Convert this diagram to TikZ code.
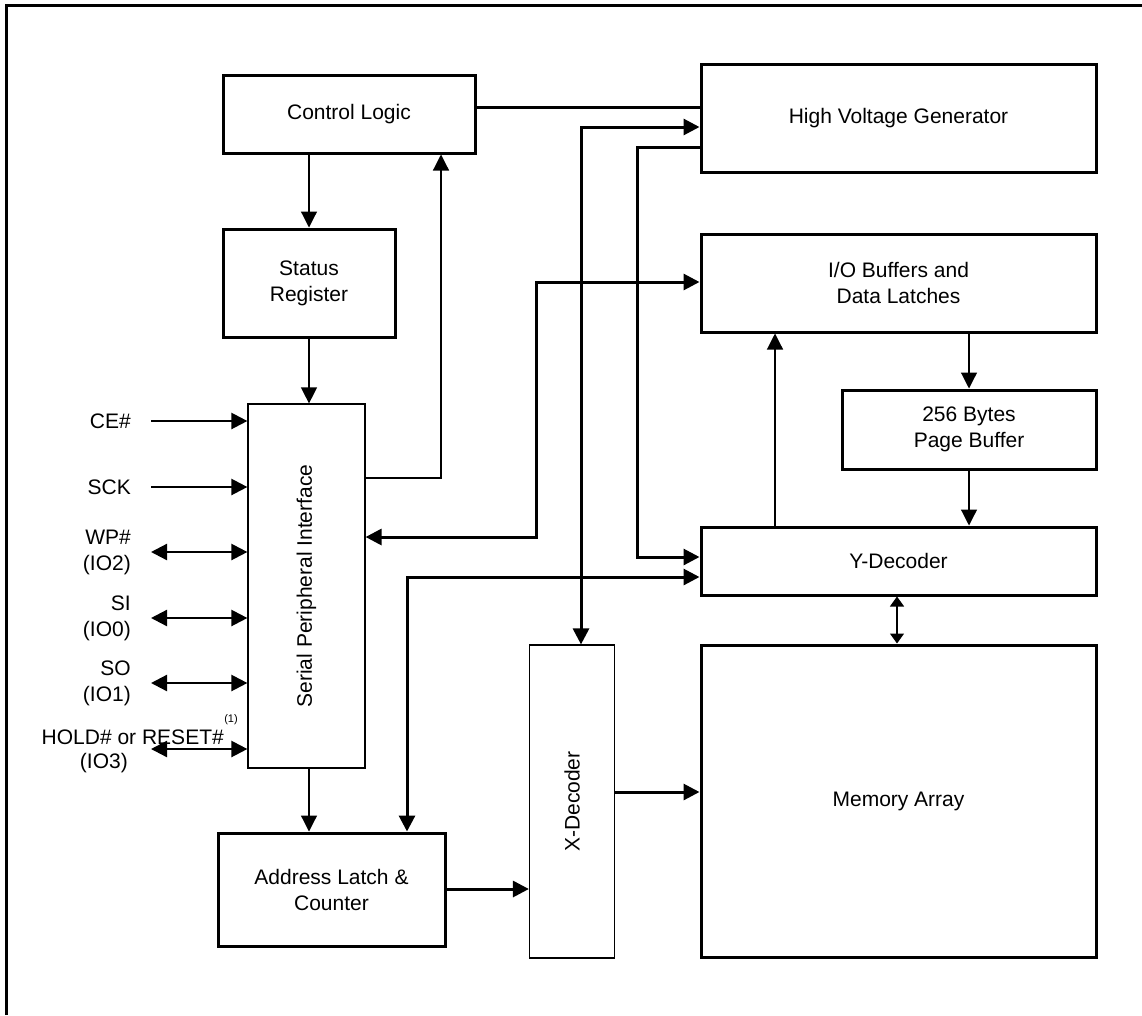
\documentclass[tikz,border=0pt]{standalone}
\usepackage{fontspec}
\setmainfont{Liberation Sans}
\usetikzlibrary{arrows.meta}
\begin{document}
\begin{tikzpicture}[x=1pt,y=-1pt,>={Triangle[length=16pt,width=16pt]}]
\tikzset{
 lbl/.style={font=\fontsize{21}{26}\selectfont, align=center, inner sep=0pt},
 blk/.style={draw, line width=3pt, inner sep=0pt, font=\fontsize{21}{26}\selectfont, align=center},
 tblk/.style={draw, line width=1.2pt, inner sep=0pt, font=\fontsize{21}{26}\selectfont, align=center},
 bus/.style={line width=3pt},
 wire/.style={line width=1.2pt},
 sig/.style={line width=2.3pt},
 smalltip/.tip={Triangle[length=10pt,width=14pt]},
}
\useasboundingbox (0,0) rectangle (1142,1015);
\draw[line width=3pt] (6,1015) -- (6,5) -- (1142,5);

% blocks
\node[blk, minimum width=252pt, minimum height=78pt] (cl) at (349,114) {Control Logic};
\node[blk, minimum width=172pt, minimum height=108pt] (sr) at (309,283) {Status\\Register};
\node[blk, minimum width=395pt, minimum height=108pt] (hv) at (898.5,118) {High Voltage Generator};
\node[blk, minimum width=395pt, minimum height=98pt] (io) at (898.5,283) {I/O Buffers and\\Data Latches};
\node[blk, minimum width=254pt, minimum height=79pt] (pb) at (969,429.5) {256 Bytes\\Page Buffer};
\node[blk, minimum width=395pt, minimum height=68pt] (yd) at (898.5,561) {Y-Decoder};
\node[blk, minimum width=395pt, minimum height=312pt] (ma) at (898.5,801) {Memory Array};
\node[tblk, minimum width=117pt, minimum height=364pt] (spi) at (306.5,586) {};
\node[lbl, rotate=90] (spit) at (spi.center) {Serial Peripheral Interface};
\node[tblk, minimum width=85pt, minimum height=313pt] (xd) at (572,801.5) {};
\node[lbl, rotate=90] (xdt) at (xd.center) {X-Decoder};
\node[blk, minimum width=227pt, minimum height=113pt] (al) at (331.5,889.5) {Address Latch \&\\Counter};

% helper coordinates
\coordinate (a441) at (441,478);
\coordinate (h107) at (0,107);
\coordinate (h127) at (581,127);
\coordinate (h147) at (637,147);
\coordinate (y557) at (637,557);
\coordinate (s537) at (536,537);
\coordinate (i282) at (536,282);
\coordinate (y577) at (407,577);
\coordinate (v775) at (775,0);
\coordinate (v969) at (969,0);
\coordinate (v897) at (897,0);
\coordinate (h792) at (0,792);
\coordinate (h889) at (0,889);
\coordinate (v309) at (309,0);

% connectors
\draw[wire,->] (cl.south -| sr.north) -- (sr.north);
\draw[wire,->] (sr.south) -- (sr.south |- spi.north);
\draw[wire,->] (spi.east |- a441) -- (a441) -- (a441 |- cl.south);
\draw[bus] (cl.east |- h107) -- (hv.west |- h107);
\draw[bus,<->] (hv.west |- h127) -- (h127) -- (h127 |- xd.north);
\draw[bus,->] (hv.west |- h147) -- (h147) -- (y557) -- (yd.west |- y557);
\draw[bus,<->] (spi.east |- s537) -- (s537) -- (i282) -- (io.west |- i282);
\draw[bus,<->] (yd.west |- y577) -- (y577) -- (y577 |- al.north);
\draw[bus,->] (xd.east |- h792) -- (ma.west |- h792);
\draw[bus,->] (al.east |- h889) -- (xd.west |- h889);
\draw[wire,->] (v309 |- spi.south) -- (v309 |- al.north);
\draw[wire,->] (v775 |- yd.north) -- (v775 |- io.south);
\draw[wire,->] (v969 |- io.south) -- (v969 |- pb.north);
\draw[wire,->] (v969 |- pb.south) -- (v969 |- yd.north);
\draw[wire,smalltip-smalltip] (v897 |- yd.south) -- (v897 |- ma.north);

% signals
\coordinate (sx) at (151,0);
\node[lbl, anchor=east] (ce) at (131,421) {CE\#};
\node[lbl, anchor=east] (sck) at (131,487) {SCK};
\node[lbl, anchor=east, align=right] (wp) at (131,552) {WP\#\\(IO2)};
\node[lbl, anchor=east, align=right] (si) at (131,618) {SI\\(IO0)};
\node[lbl, anchor=east, align=right] (so) at (131,683) {SO\\(IO1)};
\node[lbl, anchor=east] (hold) at (224,737) {HOLD\# or RESET\#};
\node[lbl, anchor=east] (io3) at (128,763) {(IO3)};
\node[font=\fontsize{11}{13}\selectfont, inner sep=0pt] (fn) at (231,720) {(1)};
\coordinate (hl) at (151,749);

\draw[sig,->] (sx |- ce.east) -- (spi.west |- ce.east);
\draw[sig,->] (sx |- sck.east) -- (spi.west |- sck.east);
\draw[sig,<->] (sx |- wp.east) -- (spi.west |- wp.east);
\draw[sig,<->] (sx |- si.east) -- (spi.west |- si.east);
\draw[sig,<->] (sx |- so.east) -- (spi.west |- so.east);
\draw[sig,<->] (hl) -- (spi.west |- hl);
\end{tikzpicture}
\end{document}
